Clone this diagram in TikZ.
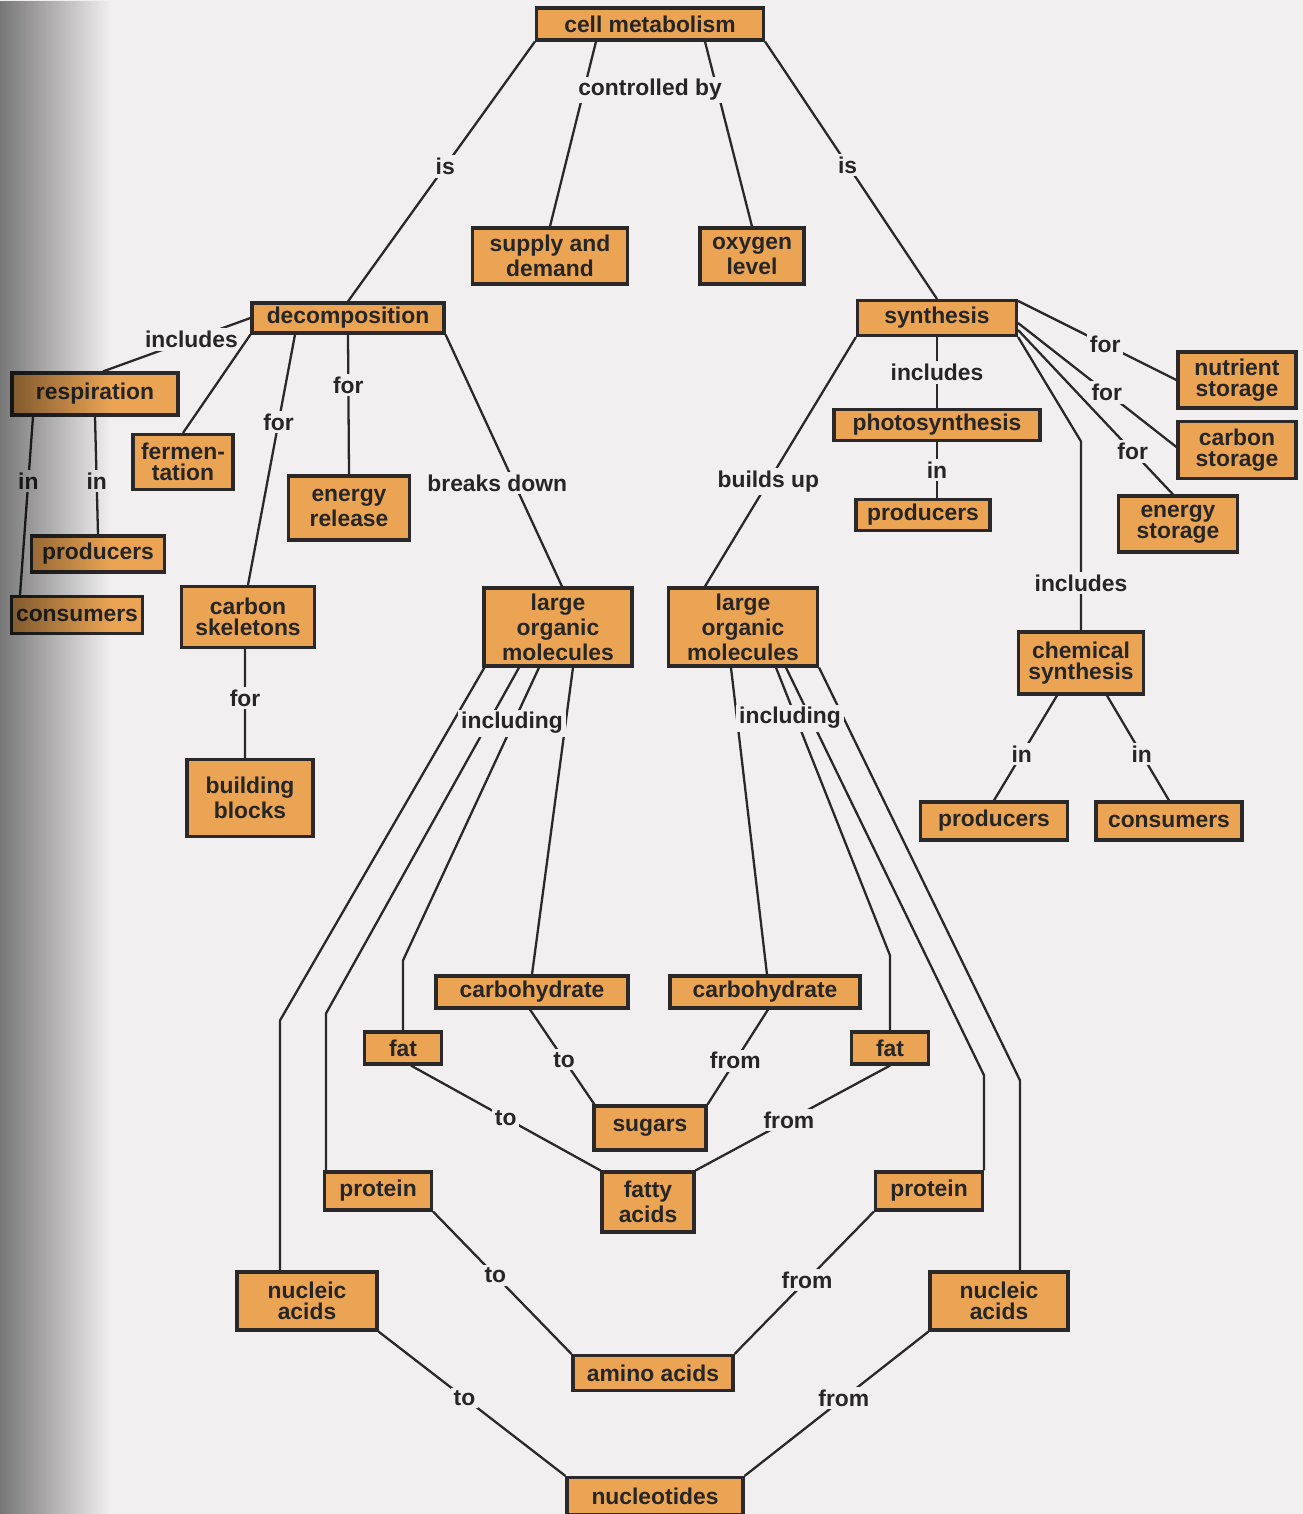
\documentclass[tikz,border=0pt]{standalone}
\usepackage{fontspec}
\setmainfont{Liberation Sans}
\usetikzlibrary{positioning,fadings}

\definecolor{pagebg}{RGB}{241,239,239}
\definecolor{boxfill}{RGB}{234,164,84}
\definecolor{inkline}{RGB}{42,40,40}
\tikzfading[name=bindfade,left color=transparent!0,right color=transparent!100]

\begin{document}
\begin{tikzpicture}[x=1cm,y=1cm]
\tikzset{
  concept/.style={rectangle,draw=inkline,fill=boxfill,line width=0.9pt,inner sep=0pt,align=center,
    text=black!85,font=\fontsize{6.5}{5.9}\selectfont\bfseries},
  linklabel/.style={fill=pagebg,inner sep=0.8pt,text=black!85,font=\fontsize{6.5}{5.9}\selectfont\bfseries},
  link/.style={draw=inkline,line width=0.65pt}
}
\fill[pagebg] (0,0) rectangle (13.03,-15.14);
\useasboundingbox (0,0) rectangle (13.03,-15.14);

% top
\node[concept,minimum width=22.7mm,minimum height=3.2mm] (n_cm) at (6.50,-0.24) {cell metabolism};
\node[concept,minimum width=15.5mm,minimum height=5.6mm] (n_sd) at (5.50,-2.56) {supply and\\demand};
\node[concept,minimum width=10.4mm,minimum height=5.6mm] (n_ox) at (7.52,-2.56) {oxygen\\level};
\node[concept,minimum width=19.2mm,minimum height=3.0mm] (n_decomp) at (3.48,-3.18) {decomposition};
\node[concept,minimum width=15.9mm,minimum height=3.5mm] (n_syn) at (9.37,-3.18) {synthesis};

% decomposition side
\node[concept,minimum width=16.6mm,minimum height=4.2mm] (n_resp) at (0.95,-3.94) {respiration};
\node[concept,minimum width=10.0mm,minimum height=5.5mm] (n_ferm) at (1.83,-4.62) {fermen-\\tation};
\node[concept,minimum width=12.1mm,minimum height=6.4mm] (n_enrel) at (3.49,-5.08) {energy\\release};
\node[concept,minimum width=13.3mm,minimum height=3.6mm] (n_prodL) at (0.98,-5.54) {producers};
\node[concept,minimum width=13.1mm,minimum height=3.7mm] (n_consL) at (0.77,-6.15) {consumers};
\node[concept,minimum width=13.3mm,minimum height=6.1mm] (n_carbsk) at (2.48,-6.17) {carbon\\skeletons};
\node[concept,minimum width=12.6mm,minimum height=7.7mm] (n_bb) at (2.50,-7.98) {building\\blocks};
\node[concept,minimum width=14.8mm,minimum height=7.8mm] (n_lomL) at (5.58,-6.27) {large\\organic\\molecules};
\node[concept,minimum width=14.9mm,minimum height=7.8mm] (n_lomR) at (7.43,-6.27) {large\\organic\\molecules};

% synthesis side
\node[concept,minimum width=20.6mm,minimum height=3.1mm] (n_photo) at (9.37,-4.25) {photosynthesis};
\node[concept,minimum width=13.4mm,minimum height=3.1mm] (n_prodS) at (9.23,-5.15) {producers};
\node[concept,minimum width=11.8mm,minimum height=5.6mm] (n_nutr) at (12.37,-3.80) {nutrient\\storage};
\node[concept,minimum width=11.8mm,minimum height=5.7mm] (n_carbst) at (12.37,-4.50) {carbon\\storage};
\node[concept,minimum width=11.9mm,minimum height=5.6mm] (n_enst) at (11.78,-5.24) {energy\\storage};
\node[concept,minimum width=12.5mm,minimum height=6.2mm] (n_chem) at (10.81,-6.63) {chemical\\synthesis};
\node[concept,minimum width=14.7mm,minimum height=3.8mm] (n_prodC) at (9.94,-8.21) {producers};
\node[concept,minimum width=14.6mm,minimum height=3.8mm] (n_consC) at (11.69,-8.21) {consumers};

% molecules
\node[concept,minimum width=19.2mm,minimum height=3.2mm] (n_carbL) at (5.32,-9.92) {carbohydrate};
\node[concept,minimum width=19.0mm,minimum height=3.2mm] (n_carbR) at (7.65,-9.92) {carbohydrate};
\node[concept,minimum width=7.7mm,minimum height=3.2mm] (n_fatL) at (4.03,-10.48) {fat};
\node[concept,minimum width=7.7mm,minimum height=3.2mm] (n_fatR) at (8.90,-10.48) {fat};
\node[concept,minimum width=11.2mm,minimum height=4.4mm] (n_sug) at (6.50,-11.28) {sugars};
\node[concept,minimum width=9.2mm,minimum height=6.0mm] (n_fa) at (6.48,-12.02) {fatty\\acids};
\node[concept,minimum width=10.7mm,minimum height=3.8mm] (n_protL) at (3.78,-11.91) {protein};
\node[concept,minimum width=10.7mm,minimum height=3.8mm] (n_protR) at (9.29,-11.91) {protein};
\node[concept,minimum width=14.0mm,minimum height=5.8mm] (n_nucL) at (3.07,-13.01) {nucleic\\acids};
\node[concept,minimum width=13.8mm,minimum height=5.8mm] (n_nucR) at (9.99,-13.01) {nucleic\\acids};
\node[concept,minimum width=16.0mm,minimum height=3.5mm] (n_amino) at (6.53,-13.73) {amino acids};
\node[concept,minimum width=17.6mm,minimum height=3.7mm] (n_ntd) at (6.55,-14.96) {nucleotides};

% links from the top
\draw[link] (n_cm.south west) -- node[linklabel,pos=0.48] {is} (n_decomp.north);
\draw[link] (n_cm.south east) -- node[linklabel,pos=0.48] {is} (n_syn.north);
\draw[link] ([xshift=-5.4mm]n_cm.south) -- (n_sd.north);
\draw[link] ([xshift=5.5mm]n_cm.south) -- (n_ox.north);
\node[linklabel] (n_ctrlby) at (6.50,-0.90) {controlled by};

% decomposition
\draw[link] (n_decomp.west) -- node[linklabel,pos=0.4] {includes} ([xshift=0.8mm]n_resp.north);
\draw[link] (n_decomp.south west) -- (n_ferm.north);
\draw[link] ([xshift=-5.3mm]n_decomp.south) -- node[linklabel,pos=0.35] {for} (n_carbsk.north);
\draw[link] (n_decomp.south) -- node[linklabel,pos=0.36] {for} (n_enrel.north);
\draw[link] (n_decomp.south east) -- node[linklabel,pos=0.59,xshift=-1.7mm] {breaks down} ([xshift=0.4mm]n_lomL.north);
\draw[link] ([xshift=-6.2mm]n_resp.south) -- node[linklabel,pos=0.36] {in} ([xshift=-5.7mm]n_consL.north);
\draw[link] (n_resp.south) -- node[linklabel,pos=0.55] {in} (n_prodL.north);
\draw[link] ([xshift=-0.3mm]n_carbsk.south) -- node[linklabel,pos=0.45] {for} ([xshift=-0.5mm]n_bb.north);

% synthesis
\draw[link] (n_syn.south west) -- node[linklabel,pos=0.58] {builds up} ([xshift=-3.8mm]n_lomR.north);
\draw[link] (n_syn.south) -- node[linklabel] {includes} (n_photo.north);
\draw[link] (n_photo.south) -- node[linklabel] {in} ([xshift=1.4mm]n_prodS.north);
\draw[link] ([yshift=-0.2mm]n_syn.north east) -- node[linklabel,pos=0.55] {for} (n_nutr.west);
\draw[link] ([yshift=-0.5mm]n_syn.east) -- node[linklabel,pos=0.56] {for} ([yshift=0.3mm]n_carbst.west);
\draw[link] ([yshift=-1.2mm]n_syn.east) -- node[linklabel,pos=0.74] {for} ([xshift=-0.5mm]n_enst.north);
\draw[link] (n_syn.south east) -- ([yshift=18.9mm]n_chem.north) -- node[linklabel,pos=0.75] {includes} (n_chem.north);
\draw[link] ([xshift=-2.4mm]n_chem.south) -- node[linklabel,pos=0.56] {in} (n_prodC.north);
\draw[link] ([xshift=2.6mm]n_chem.south) -- node[linklabel,pos=0.56] {in} (n_consC.north);

% large organic molecules
\draw[link] ([xshift=0.2mm]n_lomL.south west) -- ([xshift=-2.7mm,yshift=25mm]n_nucL.north) -- ([xshift=-2.7mm]n_nucL.north);
\draw[link] ([xshift=-3.9mm]n_lomL.south) -- ([xshift=-5.2mm,yshift=15.7mm]n_protL.north) -- ([xshift=-5.2mm]n_protL.north);
\draw[link] ([xshift=-1.9mm]n_lomL.south) -- ([yshift=7mm]n_fatL.north) -- (n_fatL.north);
\draw[link] ([xshift=1.5mm]n_lomL.south) -- (n_carbL.north);
\node[linklabel] (n_inclL) at (5.12,-7.23) {including};

\draw[link] ([xshift=-1.2mm]n_lomR.south) -- ([xshift=0.2mm]n_carbR.north);
\draw[link] ([xshift=3.3mm]n_lomR.south) -- ([yshift=7.5mm]n_fatR.north) -- (n_fatR.north);
\draw[link] ([xshift=4.3mm]n_lomR.south) -- ([yshift=9.5mm]n_protR.north east) -- (n_protR.north east);
\draw[link] (n_lomR.south east) -- ([xshift=2.1mm,yshift=19mm]n_nucR.north) -- ([xshift=2.1mm]n_nucR.north);
\node[linklabel] (n_inclR) at (7.90,-7.18) {including};

% small molecules
\draw[link] ([xshift=-0.2mm]n_carbL.south) -- node[linklabel,pos=0.53] {to} ([xshift=0.2mm]n_sug.north west);
\draw[link] ([xshift=0.3mm]n_carbR.south) -- node[linklabel,pos=0.54] {from} (n_sug.north east);
\draw[link] ([xshift=0.8mm]n_fatL.south) -- node[linklabel,pos=0.5] {to} (n_fa.north west);
\draw[link] (n_fatR.south) -- node[linklabel,pos=0.52] {from} (n_fa.north east);
\draw[link] (n_protL.south east) -- node[linklabel,pos=0.45] {to} (n_amino.north west);
\draw[link] (n_protR.south west) -- node[linklabel,pos=0.48] {from} (n_amino.north east);
\draw[link] (n_nucL.south east) -- node[linklabel,pos=0.46] {to} (n_ntd.north west);
\draw[link] (n_nucR.south west) -- node[linklabel,pos=0.46] {from} (n_ntd.north east);

% page shadow at the binding
\fill[black,fill opacity=0.5,path fading=bindfade] (0,0) rectangle (1.1,-15.14);
\end{tikzpicture}
\end{document}
